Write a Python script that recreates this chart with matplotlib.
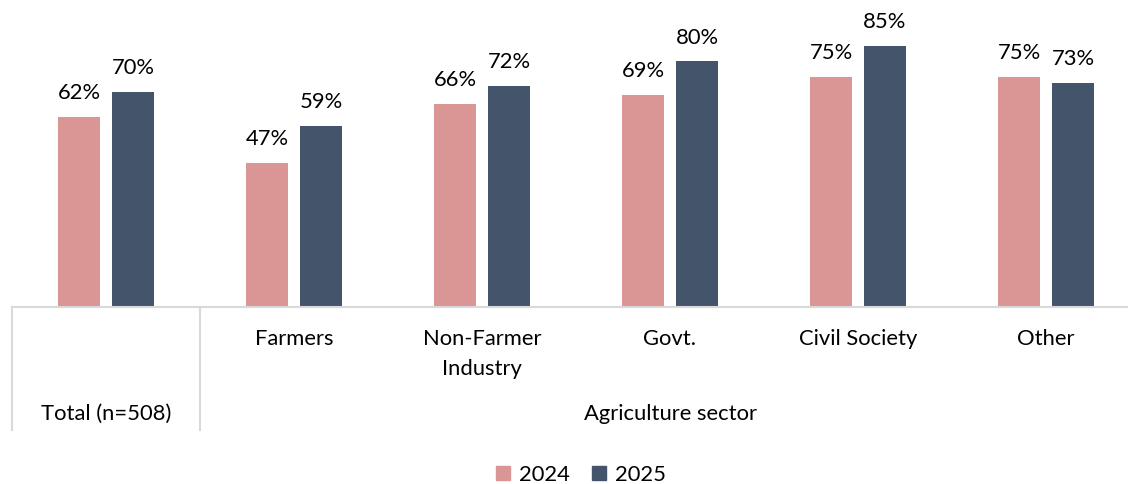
import matplotlib
matplotlib.use('Agg')
import matplotlib.pyplot as plt
from matplotlib.patches import Patch
import numpy as np

plt.rcParams['font.family'] = ['Lato', 'DejaVu Sans']

# 数据
categories = ['Total (n=508)', 'Farmers', 'Non-Farmer\nIndustry', 'Govt.', 'Civil Society', 'Other']
group_label = 'Agriculture sector'
series_names = ['2024', '2025']
v2024 = [62, 47, 66, 69, 75, 75]
v2025 = [70, 59, 72, 80, 85, 73]

c2024 = '#DA9694'
c2025 = '#44546A'
grid_c = '#D9D9D9'
fs = 15.8

W, H = 1128, 484
fig = plt.figure(figsize=(W / 100, H / 100), dpi=100)
base_px = 307  # 基线距离顶部的像素
ax = fig.add_axes([12 / W, (H - base_px) / H, (W - 12) / W, base_px / H])

x = np.arange(len(categories))
bw = 0.223
off = 0.1436
b1 = ax.bar(x - off, v2024, bw, color=c2024, label=series_names[0])
b2 = ax.bar(x + off, v2025, bw, color=c2025, label=series_names[1])

for bars in (b1, b2):
    for b in bars:
        ax.annotate('%d%%' % b.get_height(), (b.get_x() + b.get_width() / 2, b.get_height()),
                    xytext=(0, 10), textcoords='offset points', ha='center', va='bottom',
                    fontsize=fs, color='#000000')

ax.set_xlim(-0.5, 5.5 - 12 / 188)
ax.set_ylim(0, base_px / 3.07)
ax.set_xticks([])
ax.set_yticks([])
for s in ['top', 'left', 'right']:
    ax.spines[s].set_visible(False)
ax.spines['bottom'].set_color(grid_c)
ax.spines['bottom'].set_linewidth(1.5)

# 分类标签
tr = ax.get_xaxis_transform()
def ay(px):
    # 基线以下的像素转为坐标轴比例
    return -px / base_px

for i, c in enumerate(categories[1:], start=1):
    ax.text(i, ay(22), c, transform=tr, ha='center', va='top', fontsize=fs,
            linespacing=1.6)
ax.text(0, ay(107), categories[0], transform=tr, ha='center', va='center', fontsize=fs)
ax.text(3, ay(107), group_label, transform=tr, ha='center', va='center', fontsize=fs)

# 分隔线
for xv in (-0.5, 0.5):
    ax.plot([xv, xv], [0, ay(123)], transform=tr, color=grid_c, lw=1.5, clip_on=False)

handles = [Patch(color=c2024, label=series_names[0]), Patch(color=c2025, label=series_names[1])]
fig.legend(handles=handles, loc='lower center', bbox_to_anchor=(0.515, -0.042), ncol=2,
           frameon=False, fontsize=fs, handlelength=0.65, handleheight=0.65,
           handletextpad=0.4, columnspacing=1.0)

fig.savefig('out.png', dpi=100)
